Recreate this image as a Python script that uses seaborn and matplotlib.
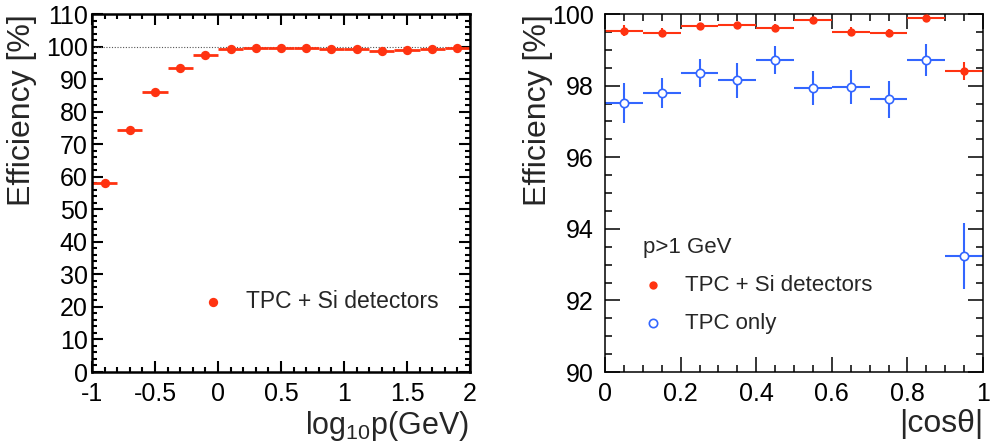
import numpy as np
import pandas as pd
import matplotlib
matplotlib.use("Agg")
import matplotlib.pyplot as plt
from matplotlib.ticker import MultipleLocator, FuncFormatter
import seaborn as sns

sns.set_theme(style="white")
plt.rcParams['font.family'] = ['Liberation Sans', 'DejaVu Sans']
plt.rcParams['mathtext.default'] = 'regular'

# ---- data: left panel (efficiency vs log10 p) ----
logp_centers = [-0.9, -0.7, -0.5, -0.3, -0.1, 0.1, 0.3, 0.5, 0.7, 0.9, 1.1, 1.3, 1.5, 1.7, 1.9]
eff_p = [58.2, 74.3, 86.0, 93.4, 97.3, 99.3, 99.5, 99.4, 99.7, 99.3, 99.1, 98.5, 98.9, 99.2, 99.6]
eff_p_err = [1.2, 0.6, 0.4, 0.3, 0.25, 0.2, 0.2, 0.2, 0.2, 0.2, 0.2, 0.2, 0.2, 0.2, 0.2]
logp_halfwidth = 0.1

# ---- data: right panel (efficiency vs |cos theta|, p>1 GeV) ----
cos_centers = [0.05, 0.15, 0.25, 0.35, 0.45, 0.55, 0.65, 0.75, 0.85, 0.95]
eff_si = [99.53, 99.48, 99.66, 99.68, 99.61, 99.82, 99.51, 99.47, 99.89, 98.41]
eff_si_err = [0.15, 0.13, 0.08, 0.08, 0.1, 0.07, 0.12, 0.12, 0.05, 0.26]
eff_tpc = [97.52, 97.79, 98.35, 98.15, 98.72, 97.93, 97.96, 97.62, 98.72, 93.24]
eff_tpc_err = [0.56, 0.42, 0.38, 0.49, 0.39, 0.47, 0.48, 0.52, 0.44, 0.91]
cos_halfwidth = 0.05

RED = '#ff3311'
BLUE = '#3366ff'

fig = plt.figure(figsize=(9.91, 4.44), dpi=100)
axL = fig.add_axes([92/991, 1-372/444, 378/991, 358/444])
axR = fig.add_axes([605/991, 1-372/444, 378/991, 358/444])

fmt = FuncFormatter(lambda v, p: f'{v:g}')

# ---------- left panel ----------
dfL = pd.DataFrame({'x': logp_centers, 'y': eff_p})
axL.axhline(100, color='#555555', lw=0.8, ls=(0, (1, 1.5)), zorder=1)
axL.errorbar(logp_centers, eff_p, xerr=logp_halfwidth, yerr=eff_p_err,
             fmt='none', ecolor=RED, elinewidth=2.0, capsize=0, zorder=2)
sns.scatterplot(data=dfL, x='x', y='y', ax=axL, color=RED, s=45,
                edgecolor=RED, linewidth=0, zorder=3, label='TPC + Si detectors')
axL.set_xlim(-1, 2)
axL.set_ylim(0, 110)
axL.xaxis.set_major_locator(MultipleLocator(0.5))
axL.xaxis.set_minor_locator(MultipleLocator(0.1))
axL.yaxis.set_major_locator(MultipleLocator(10))
axL.yaxis.set_minor_locator(MultipleLocator(2))
axL.xaxis.set_major_formatter(fmt)
axL.set_xlabel('')
axL.set_ylabel('')
for s in axL.spines.values():
    s.set_linewidth(1.8)
    s.set_color('black')
axL.tick_params(which='both', direction='in', top=True, right=True,
                bottom=True, left=True, labelsize=18, colors='black', width=1.5)
axL.tick_params(which='major', length=8)
axL.tick_params(which='minor', length=3.8)
axL.tick_params(axis='x', which='major', pad=7)
axL.tick_params(axis='y', which='major', pad=3)
axL.legend(loc='center left', bbox_to_anchor=(0.205, 0.196), frameon=False,
           fontsize=16.5, handletextpad=0.44, markerscale=1.0)
fig.text(469/991, 1-434/444, r'log$_{10}$p(GeV)', ha='right', va='baseline', fontsize=22)
fig.text(22/991, 1-14/444, 'Efficiency [%]', rotation=90, ha='center', va='top', fontsize=23)

# ---------- right panel ----------
dfR = pd.DataFrame({'x': cos_centers * 2,
                    'y': eff_si + eff_tpc,
                    'series': ['TPC + Si detectors'] * len(cos_centers) + ['TPC only'] * len(cos_centers)})
axR.errorbar(cos_centers, eff_si, xerr=cos_halfwidth, yerr=eff_si_err,
             fmt='none', ecolor=RED, elinewidth=1.5, capsize=0, zorder=2)
axR.errorbar(cos_centers, eff_tpc, xerr=cos_halfwidth, yerr=eff_tpc_err,
             fmt='none', ecolor=BLUE, elinewidth=1.5, capsize=0, zorder=2)
sns.scatterplot(data=dfR[dfR.series == 'TPC + Si detectors'], x='x', y='y', ax=axR,
                color=RED, s=36, linewidth=0, zorder=3, label='TPC + Si detectors')
sns.scatterplot(data=dfR[dfR.series == 'TPC only'], x='x', y='y', ax=axR,
                facecolor='white', edgecolor=BLUE, s=36, linewidth=1.2, zorder=3, label='TPC only')
axR.set_xlim(0, 1)
axR.set_ylim(90, 100)
axR.xaxis.set_major_locator(MultipleLocator(0.2))
axR.xaxis.set_minor_locator(MultipleLocator(0.05))
axR.yaxis.set_major_locator(MultipleLocator(2))
axR.yaxis.set_minor_locator(MultipleLocator(0.5))
axR.xaxis.set_major_formatter(fmt)
axR.set_xlabel('')
axR.set_ylabel('')
for s in axR.spines.values():
    s.set_linewidth(1.1)
    s.set_color('black')
axR.tick_params(which='both', direction='in', top=True, right=True,
                bottom=True, left=True, labelsize=18, colors='black', width=1.1)
axR.tick_params(which='major', length=11)
axR.tick_params(which='minor', length=5)
axR.tick_params(axis='x', which='major', pad=7)
axR.tick_params(axis='y', which='major', pad=8)
axR.legend(loc='upper left', bbox_to_anchor=(0.014, 0.326), frameon=False,
           fontsize=16, handletextpad=0.45, labelspacing=0.73, markerscale=1.0)
axR.text(0.10, 0.349, 'p>1 GeV', transform=axR.transAxes, fontsize=16,
         ha='left', va='center')
fig.text(983/991, 1-424/444, '|cosθ|', ha='right', va='center', fontsize=23)
fig.text(538/991, 1-14/444, 'Efficiency [%]', rotation=90, ha='center', va='top', fontsize=23)

fig.savefig('out.png', dpi=100)
